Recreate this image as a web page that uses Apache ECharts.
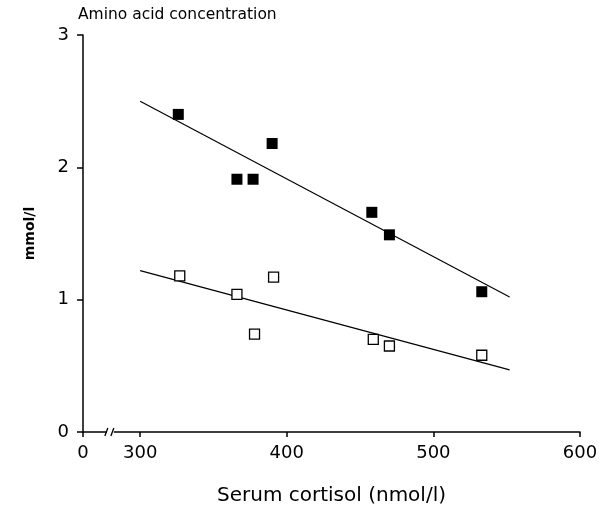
<!DOCTYPE html>
<html><head><meta charset="utf-8">
<script src="https://cdn.jsdelivr.net/npm/echarts@6/dist/echarts.min.js"></script>
<style>html,body{margin:0;padding:0;background:#fff}#c{width:603px;height:511px}</style>
</head><body><div id="c"></div>
<script>
// Filled squares (upper group)
const filledX = [326, 366, 377, 390, 458, 470, 533];
const filledY = [2.40, 1.91, 1.91, 2.18, 1.66, 1.49, 1.06];
// Open squares (lower group)
const openX = [327, 366, 378, 391, 459, 470, 533];
const openY = [1.18, 1.04, 0.74, 1.17, 0.70, 0.65, 0.58];
// Regression lines (end points)
const upperLineX = [300, 552];
const upperLineY = [2.50, 1.02];
const lowerLineX = [300, 552];
const lowerLineY = [1.22, 0.47];
const yTicks = [0, 1, 2, 3];
const xTickLabels = ['0', '300', '400', '500', '600'];

const zip = (a, b) => a.map((v, i) => [v, b[i]]);
const font = 'DejaVu Sans';
const chart = echarts.init(document.getElementById('c'));
const xMin = 261;
chart.setOption({
  animation: false,
  textStyle: {fontFamily: font},
  title: {text: 'Amino acid concentration', left: 73, top: 2,
    textStyle: {fontFamily: font, fontWeight: 'normal', fontSize: 15.5, color: '#000'}},
  grid: {left: 83, right: 23, top: 35, bottom: 79, outerBoundsMode: 'none', containLabel: false},
  xAxis: {type: 'value', min: xMin, max: 600, splitNumber: 3,
    name: 'Serum cortisol (nmol/l)', nameLocation: 'middle', nameGap: 54,
    nameTextStyle: {fontSize: 20, color: '#000', fontFamily: font},
    axisLine: {lineStyle: {color: '#000', width: 1.5}},
    axisTick: {show: true, length: 5, lineStyle: {color: '#000', width: 1.5}},
    axisLabel: {showMinLabel: true, fontSize: 18, color: '#000', margin: 12,
      formatter: v => v < 300 ? xTickLabels[0] : String(v)},
    splitLine: {show: false}},
  yAxis: {type: 'value', min: 0, max: 3, interval: 1,
    name: 'mmol/l', nameLocation: 'middle', nameGap: 46,
    nameTextStyle: {fontSize: 14, fontWeight: 'bold', color: '#000', fontFamily: font},
    axisLine: {lineStyle: {color: '#000', width: 1.5}},
    axisTick: {show: true, length: 6, lineStyle: {color: '#000', width: 1.5}},
    axisLabel: {fontSize: 18, color: '#000', margin: 14,
      formatter: v => yTicks.includes(v) ? String(v) : ''},
    splitLine: {show: false}},
  series: [
    {type: 'line', data: zip(upperLineX, upperLineY), symbol: 'none',
      lineStyle: {color: '#000', width: 1.2}},
    {type: 'line', data: zip(lowerLineX, lowerLineY), symbol: 'none',
      lineStyle: {color: '#000', width: 1.2}},
    {type: 'scatter', data: zip(filledX, filledY), symbol: 'rect', symbolSize: 11,
      itemStyle: {color: '#000', opacity: 1}, z: 5},
    {type: 'scatter', data: zip(openX, openY), symbol: 'rect', symbolSize: 10,
      itemStyle: {color: '#fff', borderColor: '#000', borderWidth: 1.3, opacity: 1}, z: 5}
  ]
});
// axis break marks
const bp = chart.convertToPixel({gridIndex: 0}, [280, 0]);
const bx = bp[0], by = bp[1];
chart.setOption({graphic: [
  {type: 'rect', shape: {x: bx - 4, y: by - 3, width: 7, height: 6}, style: {fill: '#fff'}, z: 100},
  {type: 'line', shape: {x1: bx - 6, y1: by + 4, x2: bx - 3, y2: by - 4}, style: {stroke: '#000', lineWidth: 1.3}, z: 101},
  {type: 'line', shape: {x1: bx, y1: by + 4, x2: bx + 3, y2: by - 4}, style: {stroke: '#000', lineWidth: 1.3}, z: 101}
]});
</script></body></html>
